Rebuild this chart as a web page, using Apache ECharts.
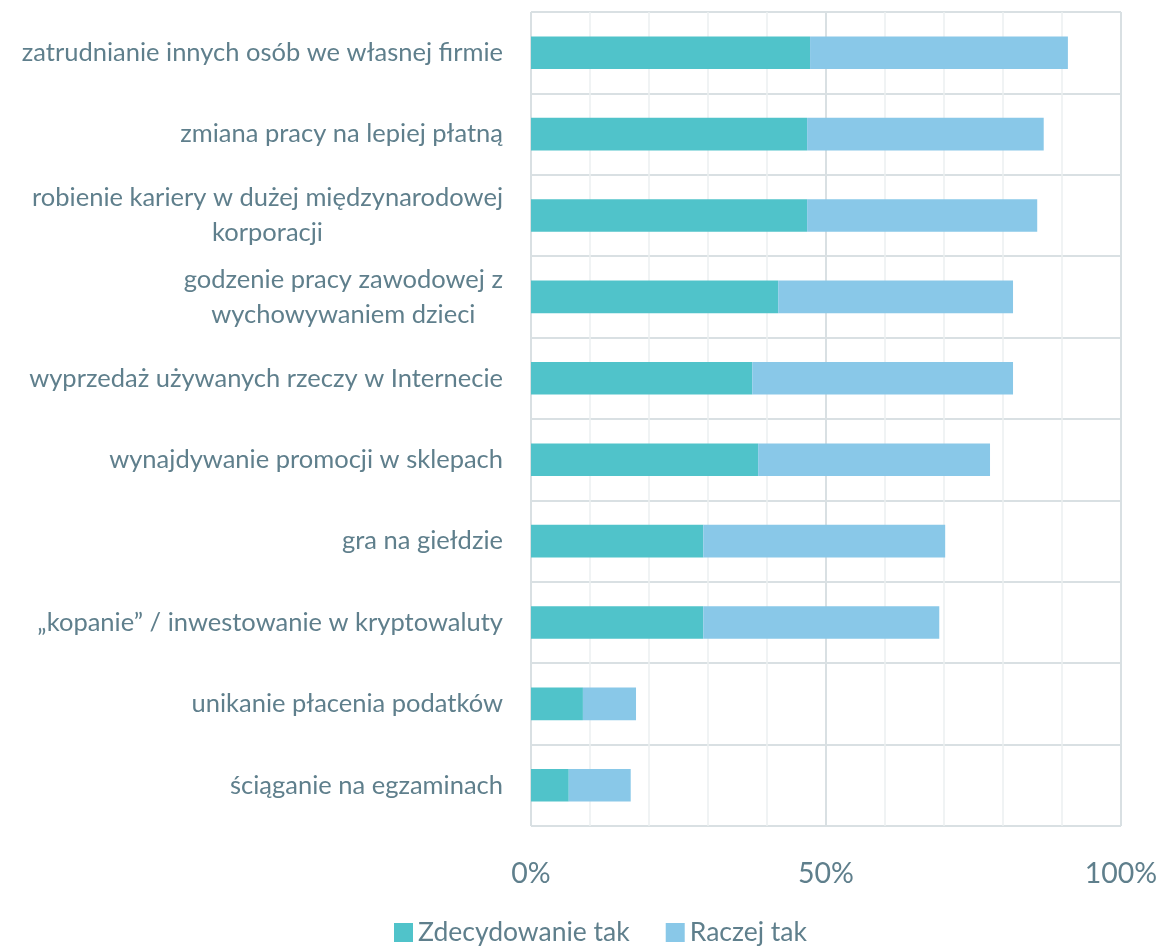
<!DOCTYPE html>
<html>
<head>
<meta charset="utf-8">
<script src="https://cdn.jsdelivr.net/npm/echarts@6/dist/echarts.min.js"></script>
<style>html,body{margin:0;padding:0;background:#fff;}#c{width:1162px;height:946px;}</style>
</head>
<body>
<div id="c"></div>
<script>
const categories = [
  "zatrudnianie innych osób we własnej firmie",
  "zmiana pracy na lepiej płatną",
  "robienie kariery w dużej międzynarodowej\nkorporacji",
  "godzenie pracy zawodowej z\nwychowywaniem dzieci",
  "wyprzedaż używanych rzeczy w Internecie",
  "wynajdywanie promocji w sklepach",
  "gra na giełdzie",
  "„kopanie” / inwestowanie w kryptowaluty",
  "unikanie płacenia podatków",
  "ściąganie na egzaminach"
];
const zdecydowanieTak = [47.3, 46.8, 46.8, 41.9, 37.5, 38.5, 29.2, 29.2, 8.8, 6.4];
const raczejTak = [43.7, 40.1, 39.0, 39.8, 44.2, 39.3, 41.0, 40.0, 9.0, 10.5];
const seriesNames = ["Zdecydowanie tak", "Raczej tak"];
const xTicks = [0, 50, 100];

const textColor = '#5f7f8c';
const font = 'Lato';
const chart = echarts.init(document.getElementById('c'));
chart.setOption({
  backgroundColor: '#ffffff',
  animation: false,
  grid: { left: 531, right: 41, top: 12, bottom: 120, containLabel: false },
  legend: {
    data: seriesNames,
    left: 389, top: 914,
    icon: 'rect', itemWidth: 19, itemHeight: 19, itemGap: 36,
    textStyle: { color: textColor, fontFamily: font, fontSize: 26.5 }
  },
  xAxis: {
    type: 'value', min: 0, max: 100, interval: 50,
    axisLine: { show: false }, axisTick: { show: false },
    axisLabel: { color: textColor, fontFamily: font, fontSize: 28.5, margin: 33,
      formatter: v => xTicks.includes(v) ? v + '%' : '' },
    splitLine: { show: true, lineStyle: { color: '#d9e0e3', width: 2 } },
    minorTick: { show: false, splitNumber: 5 },
    minorSplitLine: { show: true, lineStyle: { color: '#ebeff1', width: 1.5 } }
  },
  yAxis: {
    type: 'category', data: categories, inverse: true,
    axisLine: { show: false }, axisTick: { show: false },
    splitLine: { show: true, lineStyle: { color: '#d9e0e3', width: 2 } },
    axisLabel: {
      color: textColor, fontFamily: font, fontSize: 25.5, margin: 28, lineHeight: 35,
      formatter: v => v.split('\n').map(l => '{c|' + l + '}').join('\n'),
      rich: { c: { align: 'center', color: textColor, fontFamily: font, fontSize: 25.5, lineHeight: 35 } }
    }
  },
  series: [
    { name: seriesNames[0], type: 'bar', stack: 's', data: zdecydowanieTak, barWidth: '40%',
      itemStyle: { color: '#50c3ca' } },
    { name: seriesNames[1], type: 'bar', stack: 's', data: raczejTak, barWidth: '40%',
      itemStyle: { color: '#89c8e8' } }
  ]
});
</script>
</body>
</html>
